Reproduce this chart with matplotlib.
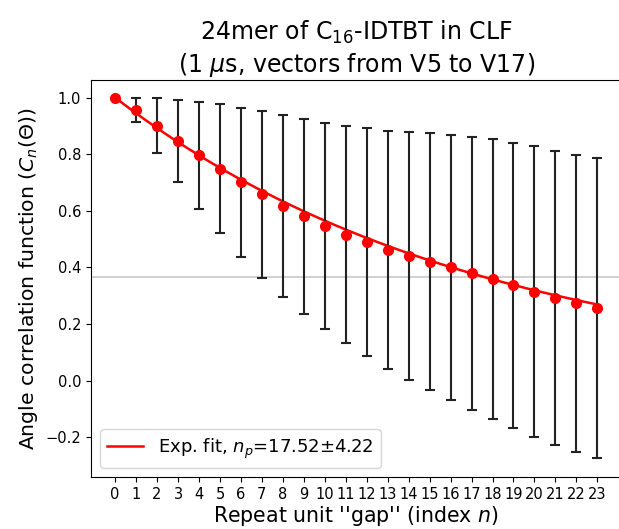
import numpy as np
import matplotlib
matplotlib.use("Agg")
import matplotlib.pyplot as plt

# repeat unit gap index
gap_n = np.arange(24)

# mean angle correlation C_n(Theta) per gap
corr_mean = [1.000, 0.955, 0.901, 0.846, 0.797, 0.749, 0.700, 0.658, 0.617, 0.580,
             0.546, 0.516, 0.489, 0.462, 0.441, 0.420, 0.401, 0.380, 0.359, 0.337,
             0.315, 0.293, 0.273, 0.256]
# standard deviation (error bar half-length)
corr_err = [0.000, 0.043, 0.096, 0.144, 0.189, 0.228, 0.264, 0.294, 0.322, 0.345,
            0.365, 0.383, 0.402, 0.421, 0.438, 0.454, 0.468, 0.482, 0.495, 0.504,
            0.513, 0.519, 0.524, 0.530]

# persistence length from the exponential fit
np_fit = 17.52
np_fit_err = 4.22

fig = plt.figure(figsize=(6.19, 5.29), dpi=100)
ax = fig.add_axes([0.1470, 0.0983, 0.857, 0.7505])

ax.axhline(1 / np.e, color='#c8c8c8', lw=1.2, zorder=1)

n_fine = np.linspace(0, gap_n[-1], 200)
ax.plot(n_fine, np.exp(-n_fine / np_fit), color='red', lw=1.8, zorder=2,
        label=r'Exp. fit, $n_p$=%.2f$\pm$%.2f' % (np_fit, np_fit_err))

ax.errorbar(gap_n, corr_mean, yerr=corr_err, fmt='o', color='red', ms=7,
            ecolor='#222222', elinewidth=1.5, capsize=3.5, capthick=1.5, zorder=3)

ax.set_xlim(-1.15, 24.15)
ax.set_ylim(-0.34, 1.062)
ax.set_xticks(gap_n)
ax.tick_params(axis='both', labelsize=10.5)

ax.set_xlabel(r"Repeat unit ''gap'' (index $n$)", fontsize=14.8, labelpad=1.5)
ax.set_ylabel(r'Angle correlation function ($C_n(\Theta)$)', fontsize=14.7)
ax.set_title('24mer of C$_{16}$-IDTBT in CLF\n(1 $\\mu$s, vectors from V5 to V17)',
             fontsize=17)
ax.legend(loc='lower left', fontsize=13)

fig.savefig('out.png', dpi=100)
